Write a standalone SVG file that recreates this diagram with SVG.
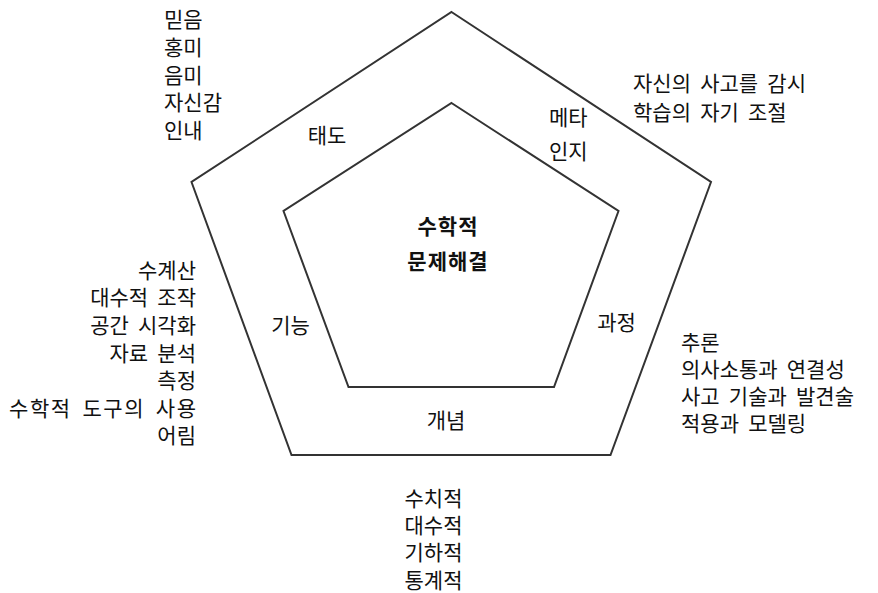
<svg xmlns="http://www.w3.org/2000/svg" width="878" height="593" viewBox="0 0 878 593">
<style>
text{font-family:"Noto Sans CJK KR","Noto Sans",sans-serif;font-size:21px;fill:#111;word-spacing:4.5px}
.b{font-weight:bold;font-size:21px;letter-spacing:1px}
.m{text-anchor:middle}
.r{text-anchor:end}
.p{fill:none;stroke:#333;stroke-width:2}
</style>
<rect width="878" height="593" fill="#fff"/>
<g id="outer"><polygon class="p" points="451.5,12 711,182 610.5,455 291.5,455 191.5,182"/></g>
<g id="inner"><polygon class="p" points="451.5,103 618.5,211 554,387 348.5,387 283.5,211"/></g>
<g id="center"><text class="b m" x="448" y="234">수학적</text><text class="b m" x="448" y="269">문제해결</text></g>
<g id="attitude"><text class="m" x="327" y="143">태도</text>
<text x="164" y="27">믿음</text><text x="164" y="55">홍미</text><text x="164" y="83">음미</text><text x="164" y="110">자신감</text><text x="164" y="138">인내</text></g>
<g id="meta"><text x="549" y="125">메타</text><text x="549" y="159">인지</text>
<text x="633" y="91">자신의 사고를 감시</text><text x="633" y="120">학습의 자기 조절</text></g>
<g id="skill"><text class="m" x="290.5" y="333">기능</text>
<text class="r" x="196" y="278">수계산</text><text class="r" x="196" y="305">대수적 조작</text><text class="r" x="196" y="333">공간 시각화</text><text class="r" x="196" y="361">자료 분석</text><text class="r" x="196" y="388">측정</text><text class="r" x="196" y="416" textLength="187" lengthAdjust="spacing">수학적 도구의 사용</text><text class="r" x="196" y="443">어림</text></g>
<g id="process"><text class="m" x="616.5" y="330">과정</text>
<text x="681" y="350">추론</text><text x="681" y="377">의사소통과 연결성</text><text x="681" y="404">사고 기술과 발견술</text><text x="681" y="431">적용과 모델링</text></g>
<g id="concept"><text class="m" x="446" y="428">개념</text>
<text class="m" x="433.5" y="506">수치적</text><text class="m" x="433.5" y="533">대수적</text><text class="m" x="433.5" y="560">기하적</text><text class="m" x="433.5" y="588">통계적</text></g>
</svg>
